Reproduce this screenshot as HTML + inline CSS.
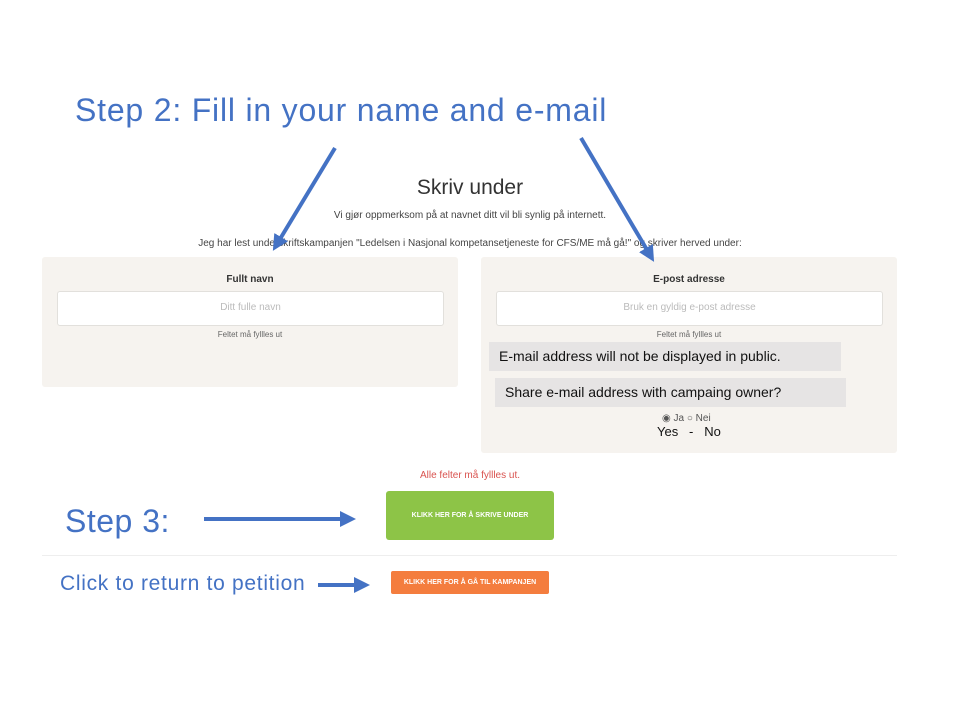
<!DOCTYPE html>
<html><head><meta charset="utf-8"><style>
body{margin:0;width:960px;height:720px;background:#fff;position:relative;overflow:hidden;font-family:"Liberation Sans",sans-serif}
div,span{position:absolute}
.c{text-align:center}
.blue{color:#4472c4}
.panel{background:#f6f3ef;border-radius:3px}
.inp{background:#fff;border:1px solid #e2e0dc;border-radius:3px;color:#bbb;font-size:10px;text-align:center;line-height:32px}
.lab{font-size:10px;font-weight:bold;color:#333}
.fm{font-size:8px;color:#666}
.gb{background:#e6e4e4;font-size:14px;color:#111;line-height:29px;padding-left:10px;box-sizing:border-box;white-space:nowrap}
</style></head><body>
<div class="blue" style="left:75px;top:92px;font-size:32px;letter-spacing:0.8px;white-space:nowrap">Step 2: Fill in your name and e-mail</div>
<div class="c" style="left:270px;width:400px;top:176px;font-size:21px;color:#333">Skriv under</div>
<div class="c" style="left:200px;width:540px;top:210px;font-size:10px;color:#444">Vi gjør oppmerksom på at navnet ditt vil bli synlig på internett.</div>
<div class="c" style="left:100px;width:740px;top:238px;font-size:10px;color:#444">Jeg har lest underskriftskampanjen "Ledelsen i Nasjonal kompetansetjeneste for CFS/ME må gå!" og skriver herved under:</div>

<div class="panel" style="left:42px;top:257px;width:416px;height:130px"></div>
<div class="lab c" style="left:42px;width:416px;top:274px">Fullt navn</div>
<div class="inp" style="left:57px;top:291px;width:385px;height:33px">Ditt fulle navn</div>
<div class="fm c" style="left:42px;width:416px;top:330px">Feltet må fyllles ut</div>

<div class="panel" style="left:481px;top:257px;width:416px;height:196px"></div>
<div class="lab c" style="left:481px;width:416px;top:274px">E-post adresse</div>
<div class="inp" style="left:496px;top:291px;width:385px;height:33px">Bruk en gyldig e-post adresse</div>
<div class="fm c" style="left:481px;width:416px;top:330px">Feltet må fyllles ut</div>
<div class="gb" style="left:489px;top:342px;width:352px;height:29px">E-mail address will not be displayed in public.</div>
<div class="gb" style="left:495px;top:378px;width:351px;height:29px">Share e-mail address with campaing owner?</div>
<div style="left:662px;top:413px;font-size:10px;color:#555;white-space:nowrap">◉ Ja ○ Nei</div>
<div style="left:657px;top:424px;font-size:13px;color:#111;white-space:pre">Yes   -   No</div>

<div class="c" style="left:320px;width:300px;top:470px;font-size:10px;color:#d9534f">Alle felter må fyllles ut.</div>
<div class="c" style="left:386px;top:491px;width:168px;height:49px;background:#8dc447;border-radius:3px;color:#fff;font-size:7px;font-weight:bold;line-height:49px">KLIKK HER FOR Å SKRIVE UNDER</div>
<div style="left:42px;top:555px;width:855px;height:1px;background:#eee"></div>
<div class="c" style="left:391px;top:571px;width:158px;height:23px;background:#f47d3e;border-radius:2px;color:#fff;font-size:7px;font-weight:bold;line-height:23px">KLIKK HER FOR Å GÅ TIL KAMPANJEN</div>

<div class="blue" style="left:65px;top:503px;font-size:32px;letter-spacing:0.5px">Step 3:</div>
<div class="blue" style="left:60px;top:572px;font-size:21px;letter-spacing:0.7px;white-space:nowrap">Click to return to petition</div>

<svg width="960" height="720" style="position:absolute;left:0;top:0">
<defs><marker id="a" markerWidth="4" markerHeight="4" refX="2" refY="2" orient="auto" markerUnits="strokeWidth"><path d="M0,0 L4,2 L0,4z" fill="#4472c4"/></marker></defs>
<g stroke="#4472c4" stroke-width="4" fill="none">
<line x1="335" y1="148" x2="277" y2="244" marker-end="url(#a)"/>
<line x1="581" y1="138" x2="650" y2="255" marker-end="url(#a)"/>
<line x1="204" y1="519" x2="348" y2="519" marker-end="url(#a)"/>
<line x1="318" y1="585" x2="362" y2="585" marker-end="url(#a)"/>
</g>
</svg>
</body></html>
